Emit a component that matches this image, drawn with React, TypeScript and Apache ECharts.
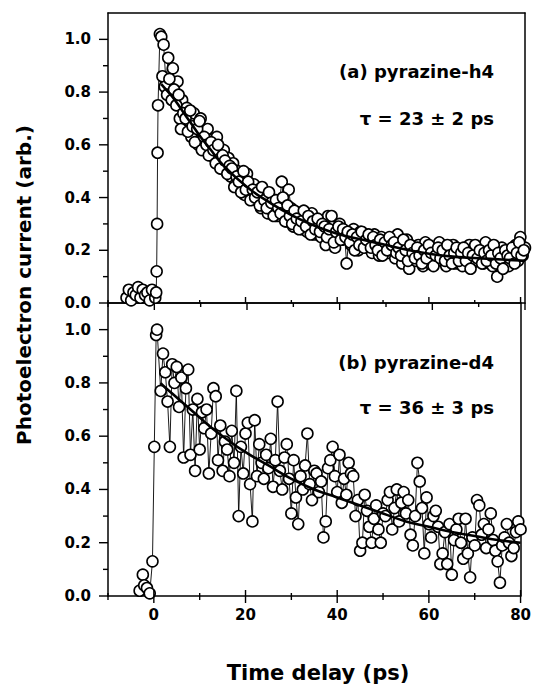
import React, { useEffect, useRef } from "react";
import * as echarts from "echarts";

// ---- data ----
const decayTimes = [
  1.5, 2, 2.5, 3, 3.5, 4, 4.5, 5, 5.5, 6,
  6.5, 7, 7.5, 8, 8.5, 9, 9.5, 10, 10.5, 11,
  11.5, 12, 12.5, 13, 13.5, 14, 14.5, 15, 15.5, 16,
  16.5, 17, 17.5, 18, 18.5, 19, 19.5, 20, 20.5, 21,
  21.5, 22, 22.5, 23, 23.5, 24, 24.5, 25, 25.5, 26,
  26.5, 27, 27.5, 28, 28.5, 29, 29.5, 30, 30.5, 31,
  31.5, 32, 32.5, 33, 33.5, 34, 34.5, 35, 35.5, 36,
  36.5, 37, 37.5, 38, 38.5, 39, 39.5, 40, 40.5, 41,
  41.5, 42, 42.5, 43, 43.5, 44, 44.5, 45, 45.5, 46,
  46.5, 47, 47.5, 48, 48.5, 49, 49.5, 50, 50.5, 51,
  51.5, 52, 52.5, 53, 53.5, 54, 54.5, 55, 55.5, 56,
  56.5, 57, 57.5, 58, 58.5, 59, 59.5, 60, 60.5, 61,
  61.5, 62, 62.5, 63, 63.5, 64, 64.5, 65, 65.5, 66,
  66.5, 67, 67.5, 68, 68.5, 69, 69.5, 70, 70.5, 71,
  71.5, 72, 72.5, 73, 73.5, 74, 74.5, 75, 75.5, 76,
  76.5, 77, 77.5, 78, 78.5, 79, 79.5, 80,
];

const riseTimesH4 = [-6, -5.5, -5, -4.5, -4, -3.5, -3, -2.5, -2, -1.5, -1, -0.5, 0.2, 0.4, 0.5, 0.6, 0.7, 0.8, 1.2];
const riseValuesH4 = [0.02, 0.05, 0.01, 0.04, 0.03, 0.06, 0.02, 0.05, 0.03, 0.04, 0.01, 0.05, 0.02, 0.04, 0.12, 0.3, 0.57, 0.75, 1.02];

const decayValuesH4 = [
  1.01, 0.98, 0.84, 0.93, 0.81, 0.89, 0.78, 0.84, 0.70, 0.77,
  0.66, 0.74, 0.69, 0.63, 0.72, 0.67, 0.60, 0.70, 0.64, 0.58,
  0.66, 0.57, 0.62, 0.55, 0.63, 0.59, 0.52, 0.58, 0.50, 0.55,
  0.48, 0.53, 0.45, 0.50, 0.43, 0.47, 0.41, 0.49, 0.44, 0.40,
  0.45, 0.39, 0.43, 0.36, 0.41, 0.38, 0.34, 0.40, 0.35, 0.37,
  0.33, 0.38, 0.46, 0.35, 0.31, 0.43, 0.36, 0.29, 0.34, 0.30,
  0.33, 0.28, 0.32, 0.27, 0.30, 0.34, 0.26, 0.29, 0.31, 0.25,
  0.27, 0.22, 0.33, 0.25, 0.29, 0.21, 0.26, 0.30, 0.24, 0.27,
  0.15, 0.25, 0.22, 0.28, 0.24, 0.20, 0.27, 0.23, 0.26, 0.21,
  0.24, 0.19, 0.26, 0.22, 0.18, 0.25, 0.21, 0.23, 0.19, 0.24,
  0.20, 0.17, 0.26, 0.22, 0.15, 0.19, 0.24, 0.13, 0.18, 0.21,
  0.16, 0.22, 0.19, 0.14, 0.23, 0.18, 0.15, 0.21, 0.17, 0.20,
  0.23, 0.16, 0.19, 0.14, 0.21, 0.17, 0.22, 0.15, 0.20, 0.18,
  0.14, 0.20, 0.17, 0.22, 0.15, 0.19, 0.16, 0.21, 0.18, 0.15,
  0.23, 0.17, 0.20, 0.14, 0.18, 0.10, 0.16, 0.21, 0.15, 0.19,
  0.14, 0.20, 0.17, 0.22, 0.16, 0.25, 0.18, 0.21,
];

// second, interleaved scan of pyrazine-h4
const scanTimesH4b = [
  1.75, 2.25, 2.75, 3.25, 3.75, 4.25, 4.75, 5.25, 5.75, 6.25,
  6.75, 7.25, 7.75, 8.25, 8.75, 9.25, 9.75, 10.25, 10.75, 11.25,
  11.75, 12.25, 12.75, 13.25, 13.75, 14.25, 14.75, 15.25, 15.75, 16.25,
  16.75, 17.25, 17.75, 18.25, 18.75, 19.25, 19.75, 20.25, 20.75, 21.25,
  21.75, 22.25, 22.75, 23.25, 23.75, 24.25, 24.75, 25.25, 25.75, 26.25,
  26.75, 27.25, 27.75, 28.25, 28.75, 29.25, 29.75, 30.25, 30.75, 31.25,
  31.75, 32.25, 32.75, 33.25, 33.75, 34.25, 34.75, 35.25, 35.75, 36.25,
  36.75, 37.25, 37.75, 38.25, 38.75, 39.25, 39.75, 40.25, 40.75, 41.25,
  41.75, 42.25, 42.75, 43.25, 43.75, 44.25, 44.75, 45.25, 45.75, 46.25,
  46.75, 47.25, 47.75, 48.25, 48.75, 49.25, 49.75, 50.25, 50.75, 51.25,
  51.75, 52.25, 52.75, 53.25, 53.75, 54.25, 54.75, 55.25, 55.75, 56.25,
  56.75, 57.25, 57.75, 58.25, 58.75, 59.25, 59.75, 60.25, 60.75, 61.25,
  61.75, 62.25, 62.75, 63.25, 63.75, 64.25, 64.75, 65.25, 65.75, 66.25,
  66.75, 67.25, 67.75, 68.25, 68.75, 69.25, 69.75, 70.25, 70.75, 71.25,
  71.75, 72.25, 72.75, 73.25, 73.75, 74.25, 74.75, 75.25, 75.75, 76.25,
  76.75, 77.25, 77.75, 78.25, 78.75, 79.25, 79.75,
];
const scanValuesH4b = [
  0.86, 0.82, 0.79, 0.85, 0.77, 0.81, 0.75, 0.79, 0.66, 0.72,
  0.70, 0.65, 0.73, 0.67, 0.61, 0.66, 0.69, 0.58, 0.63, 0.60,
  0.56, 0.61, 0.58, 0.53, 0.60, 0.51, 0.56, 0.54, 0.49, 0.52,
  0.51, 0.44, 0.48, 0.46, 0.42, 0.50, 0.43, 0.46, 0.39, 0.43,
  0.40, 0.42, 0.37, 0.44, 0.39, 0.36, 0.42, 0.38, 0.33, 0.39,
  0.36, 0.34, 0.40, 0.31, 0.37, 0.33, 0.30, 0.35, 0.32, 0.28,
  0.31, 0.35, 0.29, 0.33, 0.26, 0.31, 0.28, 0.32, 0.27, 0.30,
  0.29, 0.25, 0.28, 0.33, 0.23, 0.27, 0.29, 0.24, 0.28, 0.25,
  0.27, 0.23, 0.26, 0.20, 0.25, 0.22, 0.27, 0.21, 0.24, 0.26,
  0.21, 0.25, 0.22, 0.20, 0.24, 0.18, 0.23, 0.20, 0.25, 0.22,
  0.23, 0.19, 0.21, 0.18, 0.24, 0.20, 0.16, 0.22, 0.19, 0.17,
  0.21, 0.18, 0.15, 0.20, 0.17, 0.22, 0.19, 0.14, 0.18, 0.21,
  0.17, 0.20, 0.16, 0.22, 0.18, 0.15, 0.19, 0.21, 0.16, 0.19,
  0.21, 0.16, 0.19, 0.13, 0.18, 0.22, 0.17, 0.20, 0.15, 0.19,
  0.16, 0.20, 0.18, 0.22, 0.15, 0.19, 0.17, 0.13, 0.20, 0.18,
  0.17, 0.21, 0.15, 0.19, 0.23, 0.18, 0.20,
];

const riseTimesD4 = [-3.1, -2.4, -2.1, -1.5, -0.9, -0.3, 0.1, 0.5, 0.7];
const riseValuesD4 = [0.02, 0.08, 0.04, 0.03, 0.01, 0.13, 0.56, 0.98, 1.0];

const decayValuesD4 = [
  0.77, 0.91, 0.84, 0.73, 0.56, 0.87, 0.80, 0.86, 0.71, 0.82,
  0.52, 0.78, 0.85, 0.53, 0.70, 0.47, 0.74, 0.55, 0.69, 0.63,
  0.70, 0.46, 0.61, 0.78, 0.75, 0.51, 0.64, 0.47, 0.58, 0.55,
  0.45, 0.62, 0.50, 0.77, 0.30, 0.56, 0.46, 0.61, 0.65, 0.42,
  0.28, 0.66, 0.45, 0.57, 0.50, 0.44, 0.53, 0.48, 0.59, 0.41,
  0.51, 0.73, 0.47, 0.40, 0.52, 0.57, 0.44, 0.31, 0.51, 0.37,
  0.27, 0.45, 0.40, 0.49, 0.61, 0.42, 0.36, 0.47, 0.46, 0.39,
  0.43, 0.22, 0.28, 0.48, 0.51, 0.56, 0.45, 0.39, 0.53, 0.35,
  0.44, 0.38, 0.50, 0.46, 0.45, 0.30, 0.36, 0.17, 0.20, 0.38,
  0.32, 0.26, 0.20, 0.29, 0.34, 0.25, 0.20, 0.31, 0.30, 0.36,
  0.39, 0.25, 0.33, 0.40, 0.28, 0.35, 0.39, 0.31, 0.36, 0.23,
  0.19, 0.30, 0.50, 0.43, 0.33, 0.16, 0.37, 0.27, 0.22, 0.30,
  0.32, 0.26, 0.12, 0.16, 0.24, 0.12, 0.27, 0.08, 0.21, 0.25,
  0.29, 0.20, 0.14, 0.29, 0.16, 0.07, 0.22, 0.19, 0.36, 0.34,
  0.23, 0.27, 0.18, 0.25, 0.31, 0.21, 0.17, 0.13, 0.05, 0.19,
  0.22, 0.27, 0.20, 0.15, 0.18, 0.24, 0.28, 0.25,
];

const fitTimes = [1.5, 2, 4, 6, 8, 10, 12, 15, 20, 25, 30, 35, 40, 45, 50, 55, 60, 65, 70, 75, 80];
const fitValuesH4 = [0.83, 0.82, 0.78, 0.73, 0.68, 0.63, 0.585, 0.52, 0.44, 0.38, 0.33, 0.29, 0.26, 0.24, 0.22, 0.2, 0.185, 0.175, 0.17, 0.165, 0.16];
const fitValuesD4 = [0.8, 0.79, 0.76, 0.73, 0.7, 0.67, 0.64, 0.6, 0.54, 0.49, 0.44, 0.4, 0.37, 0.34, 0.31, 0.28, 0.26, 0.24, 0.225, 0.21, 0.2];

const xMajorTicks = [0, 20, 40, 60, 80];
const xMinorTicks = [-10, 10, 30, 50, 70];
const yMajorTicks = [0, 0.2, 0.4, 0.6, 0.8, 1.0];
const yMinorTicks = [0.1, 0.3, 0.5, 0.7, 0.9];

const panelLabels = ["(a) pyrazine-h4", "(b) pyrazine-d4"];
const tauLabels = ["τ = 23 ± 2 ps", "τ = 36 ± 3 ps"];

const FONT = "DejaVu Sans";
const X_MIN = -10, X_MAX = 80, Y_MIN = 0, Y_MAX = 1.1;

export default function App() {
  const ref = useRef<HTMLDivElement>(null);
  useEffect(() => {
    if (!ref.current) return;
    const chart = echarts.init(ref.current, undefined, { renderer: "svg" });

    const L = 108, R = 525;
    const grids = [
      { left: L, top: 13, width: R - L, height: 290 },
      { left: L, top: 303, width: R - L, height: 293 },
    ];
    const frame = { color: "#000", width: 1.5 };

    const xAxes: any[] = [];
    const yAxes: any[] = [];
    [0, 1].forEach((g) => {
      xAxes.push({
        type: "value", gridIndex: g, position: "bottom", min: X_MIN, max: X_MAX,
        axisLine: { show: true, lineStyle: frame, onZero: false },
        axisTick: { show: false },
        axisLabel: g === 1
          ? { show: true, customValues: xMajorTicks, margin: 11, color: "#000", fontSize: 15, fontWeight: "bold", fontFamily: FONT }
          : { show: false },
        splitLine: { show: false },
      });
      xAxes.push({
        type: "value", gridIndex: g, position: "top", min: X_MIN, max: X_MAX,
        axisLine: { show: true, lineStyle: frame, onZero: false },
        axisTick: { show: false }, axisLabel: { show: false }, splitLine: { show: false },
      });
      yAxes.push({
        type: "value", gridIndex: g, position: "left", min: Y_MIN, max: Y_MAX,
        axisLine: { show: true, lineStyle: frame, onZero: false },
        axisTick: { show: false },
        axisLabel: { show: true, customValues: yMajorTicks, margin: 17, color: "#000", fontSize: 15, fontWeight: "bold", fontFamily: FONT, formatter: (v: number) => v.toFixed(1) },
        splitLine: { show: false },
      });
      yAxes.push({
        type: "value", gridIndex: g, position: "right", min: Y_MIN, max: Y_MAX,
        axisLine: { show: true, lineStyle: frame, onZero: false },
        axisTick: { show: false }, axisLabel: { show: false }, splitLine: { show: false },
      });
    });
    const mainX = [0, 2];
    const mainY = [0, 2];

    // tick specs: [kind, value, length, direction]  kind 0 = bottom x, 1 = top x, 2 = left y ; direction 1 = outward, -1 = inward
    const tickData = (g: number) => {
      const d: number[][] = [];
      xMajorTicks.forEach((v) => d.push([0, v, 7, 1]));
      xMinorTicks.forEach((v) => d.push([0, v, 4, 1]));
      if (g === 1) {
        xMajorTicks.forEach((v) => { d.push([0, v, 6, -1]); d.push([1, v, 6, 1]); });
        xMinorTicks.forEach((v) => { d.push([0, v, 3, -1]); d.push([1, v, 3, 1]); });
      }
      yMajorTicks.forEach((v) => d.push([2, v, 9, 1]));
      yMinorTicks.forEach((v) => d.push([2, v, 5, 1]));
      return d;
    };
    const tickSeries = (g: number) => ({
      type: "custom", xAxisIndex: mainX[g], yAxisIndex: mainY[g], clip: false, silent: true, z: 10,
      data: tickData(g),
      encode: { x: -1, y: -1 },
      renderItem: (_p: any, api: any) => {
        const kind = api.value(0), v = api.value(1), len = api.value(2), dir = api.value(3);
        let x1, y1, x2, y2;
        if (kind === 0) {
          const p = api.coord([v, Y_MIN]);
          x1 = x2 = p[0]; y1 = p[1]; y2 = p[1] + dir * len;
        } else if (kind === 1) {
          const p = api.coord([v, Y_MAX]);
          x1 = x2 = p[0]; y1 = p[1]; y2 = p[1] - dir * len;
        } else {
          const p = api.coord([X_MIN, v]);
          y1 = y2 = p[1]; x1 = p[0]; x2 = p[0] - dir * len;
        }
        return { type: "line", shape: { x1, y1, x2, y2 }, style: { stroke: "#000", lineWidth: 1.4 } };
      },
    });

    const zip = (a: number[], b: number[]) => a.map((t, i) => [t, b[i]]);
    const dataH4 = zip(riseTimesH4.concat(decayTimes), riseValuesH4.concat(decayValuesH4));
    const dataH4b = zip(scanTimesH4b, scanValuesH4b);
    const dataD4 = zip(riseTimesD4.concat(decayTimes), riseValuesD4.concat(decayValuesD4));

    const marker = { color: "#fff", borderColor: "#000", borderWidth: 1.6, opacity: 1 };
    const dataSeries = (g: number, data: number[][]) => ({
      type: "line", xAxisIndex: mainX[g], yAxisIndex: mainY[g], data,
      symbol: "circle", symbolSize: 11, showSymbol: true,
      itemStyle: marker,
      lineStyle: { color: "#000", width: 0.9 },
      z: 2,
    });
    const scanSeries = (g: number, data: number[][]) => ({
      type: "scatter", xAxisIndex: mainX[g], yAxisIndex: mainY[g], data,
      symbol: "circle", symbolSize: 11, itemStyle: marker, z: 3,
    });
    const fitSeries = (g: number, vals: number[]) => ({
      type: "line", xAxisIndex: mainX[g], yAxisIndex: mainY[g], data: zip(fitTimes, vals),
      smooth: true, showSymbol: false, symbol: "none",
      lineStyle: { color: "#000", width: 2.6 },
      z: 5,
    });

    const label = (text: string, y: number) => ({
      type: "text", right: 534 - 494, top: y - 10,
      style: { text, fill: "#000", font: `bold 18px "${FONT}"` },
    });

    chart.setOption({
      animation: false,
      backgroundColor: "#fff",
      textStyle: { fontFamily: FONT },
      grid: grids,
      xAxis: xAxes,
      yAxis: yAxes,
      series: [
        dataSeries(0, dataH4), scanSeries(0, dataH4b), fitSeries(0, fitValuesH4),
        dataSeries(1, dataD4), fitSeries(1, fitValuesD4),
        tickSeries(0), tickSeries(1),
      ],
      graphic: [
        label(panelLabels[0], 72),
        label(tauLabels[0], 119),
        label(panelLabels[1], 363),
        label(tauLabels[1], 408),
        {
          type: "text", x: 318, y: 673,
          style: { text: "Time delay (ps)", fill: "#000", font: `bold 21px "${FONT}"`, align: "center", verticalAlign: "middle" },
        },
        {
          type: "text", x: 24, y: 285, rotation: Math.PI / 2,
          style: { text: "Photoelectron current (arb.)", fill: "#000", font: `bold 20px "${FONT}"`, align: "center", verticalAlign: "middle" },
        },
      ],
    });
    return () => chart.dispose();
  }, []);
  return <div ref={ref} style={{ position: "fixed", left: 0, top: 0, width: 534, height: 686 }} />;
}
